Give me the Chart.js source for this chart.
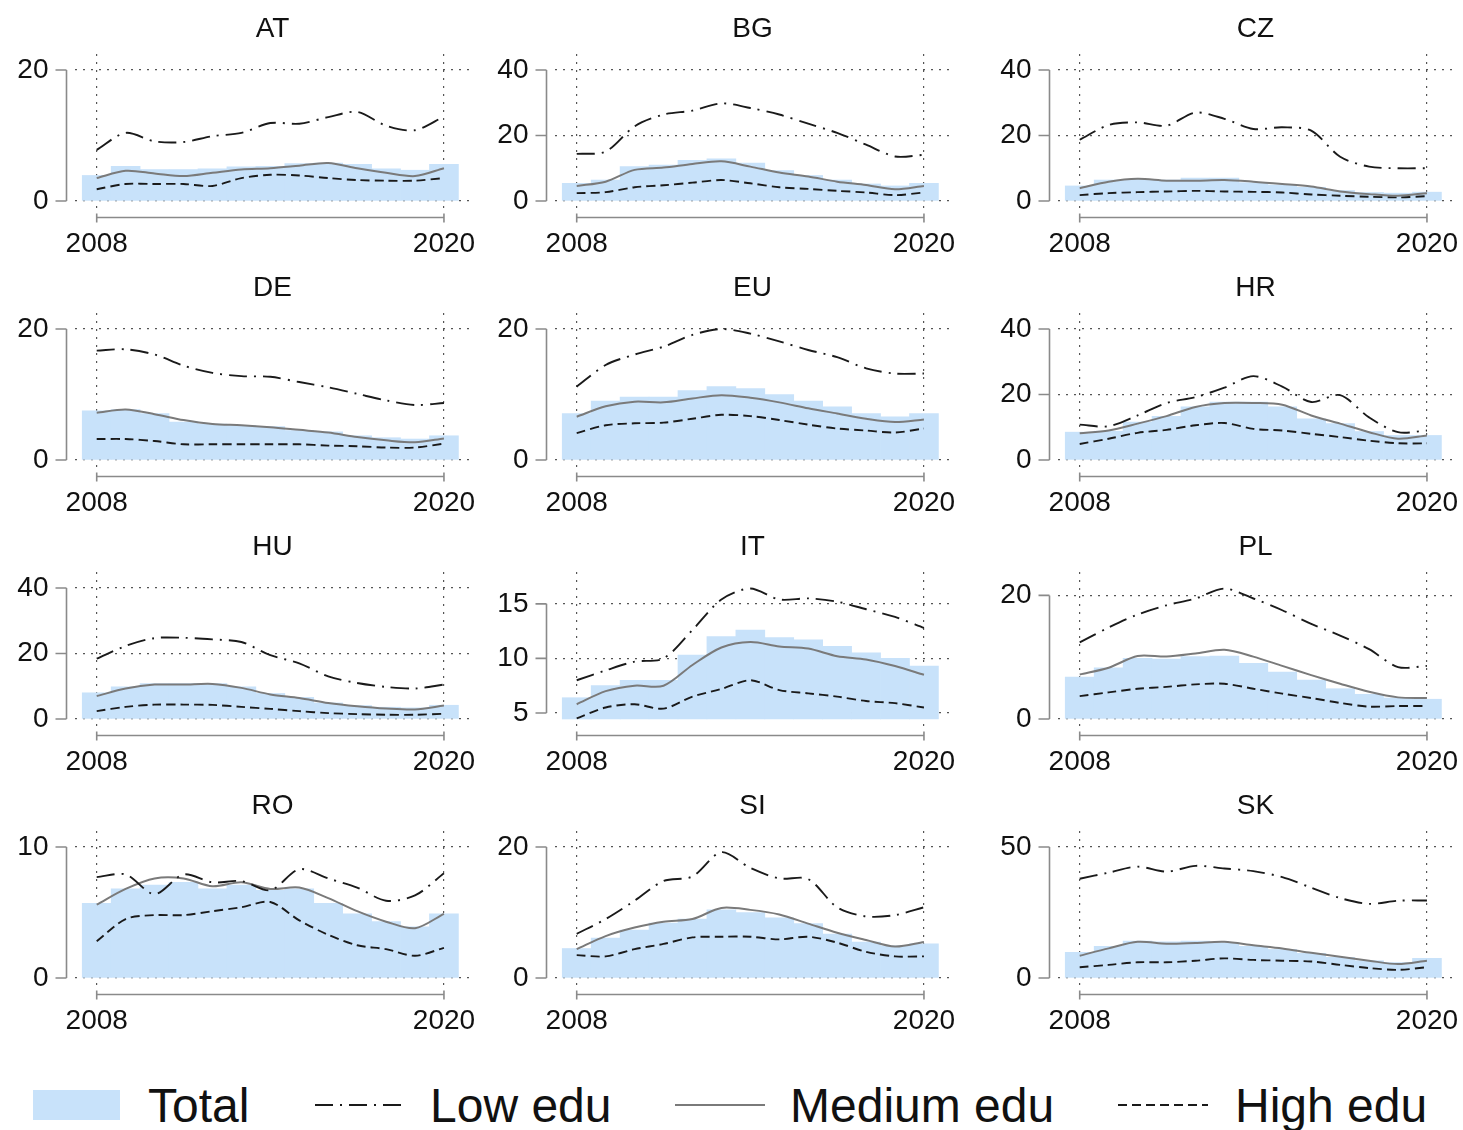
<!DOCTYPE html>
<html><head><meta charset="utf-8">
<script src="https://cdn.jsdelivr.net/npm/chart.js@4"></script>
<style>
html,body{margin:0;padding:0;background:#fff;overflow:hidden;width:1463px;height:1130px;position:relative;}
canvas{position:absolute;}
.leg{position:absolute;font-family:"Liberation Sans",Arial,Helvetica,sans-serif;font-size:48px;color:#111;line-height:48px;white-space:nowrap;}
.sw{position:absolute;}
</style></head><body>
<script>
const years = [2008,2009,2010,2011,2012,2013,2014,2015,2016,2017,2018,2019,2020];
const countries = ['AT','BG','CZ','DE','EU','HR','HU','IT','PL','RO','SI','SK'];

const totalAT = [3.9,5.3,4.8,4.8,4.9,5.2,5.3,5.7,5.8,5.6,4.9,4.7,5.6];
const lowAT   = [7.8,10.4,9.1,9.0,9.9,10.4,11.9,11.8,12.8,13.6,11.5,10.8,12.9];
const medAT   = [3.5,4.6,4.2,3.8,4.3,4.8,5.0,5.4,5.8,5.0,4.3,3.8,5.0];
const highAT  = [1.8,2.6,2.6,2.6,2.3,3.5,4.0,3.9,3.5,3.2,3.1,3.1,3.5];

const totalBG = [5.4,6.4,10.5,11.0,12.4,12.9,11.6,9.3,7.8,6.4,5.2,4.6,5.4];
const lowBG   = [14.4,15.1,22.8,26.4,27.6,29.8,28.4,26.4,23.6,20.8,17.2,13.6,14.1];
const medBG   = [4.6,5.9,9.5,10.2,11.3,12.1,10.5,8.7,7.5,5.9,4.9,3.6,4.6];
const highBG  = [2.4,2.7,4.2,4.8,5.6,6.4,5.4,4.2,3.7,3.1,2.6,1.8,2.6];

const totalCZ = [4.6,6.4,6.6,6.4,7.0,7.0,5.6,4.9,4.2,3.2,2.6,2.4,2.7];
const lowCZ   = [18.7,23.2,24.0,23.0,27.0,25.1,22.0,22.5,21.5,13.5,10.5,10.0,10.0];
const medCZ   = [3.9,5.9,6.8,6.2,6.2,6.4,5.9,5.2,4.4,2.9,2.1,1.6,2.4];
const highCZ  = [1.8,2.4,2.7,2.9,3.1,2.9,2.8,2.6,2.0,1.6,1.3,1.1,1.5];

const totalDE = [7.5,7.7,7.1,5.8,5.5,5.3,5.1,4.5,4.3,3.7,3.4,3.2,3.7];
const lowDE   = [16.7,16.9,16.1,14.4,13.3,12.8,12.7,11.9,11.1,10.1,9.1,8.4,8.7];
const medDE   = [7.2,7.7,7.0,6.1,5.5,5.3,5.0,4.6,4.2,3.5,3.0,2.7,3.3];
const highDE  = [3.2,3.2,2.9,2.4,2.4,2.4,2.4,2.4,2.2,2.1,1.9,1.9,2.5];

const totalEU = [7.1,9.0,9.6,9.6,10.6,11.2,10.9,10.0,9.0,8.1,7.1,6.6,7.1];
const lowEU   = [11.2,14.5,16.1,17.3,19.1,20.0,19.3,18.1,16.8,15.7,14.0,13.2,13.2];
const medEU   = [6.6,8.2,8.9,8.8,9.4,9.9,9.5,8.8,7.9,7.1,6.3,5.8,6.2];
const highEU  = [4.1,5.3,5.6,5.7,6.3,6.9,6.7,6.1,5.4,4.8,4.5,4.2,4.8];

const totalHR = [8.5,8.8,11.6,13.3,16.2,17.7,17.7,16.2,12.6,11.1,8.7,7.5,7.5];
const lowHR   = [10.8,10.3,13.6,17.4,19.2,22.1,25.6,22.4,17.7,19.8,13.0,8.5,9.0];
const medHR   = [8.2,9.0,11.1,13.4,16.2,17.4,17.4,16.9,13.6,11.1,8.5,6.5,7.5];
const highHR  = [4.9,6.5,8.3,9.2,10.6,11.3,9.5,9.0,8.0,7.0,5.9,5.1,5.1];

const totalHU = [8.0,9.8,10.8,10.8,10.8,9.8,7.8,6.6,4.9,4.1,3.6,3.4,4.2];
const lowHU   = [18.4,22.3,24.7,24.8,24.3,23.5,19.5,17.0,13.0,11.0,9.8,9.3,10.5];
const medHU   = [7.0,9.3,10.5,10.5,10.7,9.5,7.5,6.4,4.9,3.9,3.2,2.9,4.1];
const highHU  = [2.4,3.7,4.4,4.4,4.3,3.7,3.1,2.4,1.8,1.5,1.3,1.3,1.6];

const totalIT = [6.4,7.5,8.0,8.0,10.3,12.0,12.6,11.9,11.7,11.1,10.5,10.0,9.3];
const lowIT   = [8.0,8.9,9.7,10.0,12.6,15.4,16.4,15.4,15.5,15.2,14.5,13.8,12.8];
const medIT   = [5.8,7.0,7.5,7.5,9.4,11.0,11.5,11.1,10.9,10.2,9.9,9.3,8.5];
const highIT  = [4.5,5.5,5.8,5.4,6.5,7.2,8.0,7.1,6.8,6.5,6.1,5.9,5.5];

const totalPL = [6.8,8.3,9.8,9.7,10.1,10.2,9.0,7.6,6.3,4.9,4.0,3.4,3.2];
const lowPL   = [12.4,14.8,16.9,18.4,19.5,21.1,19.5,17.6,15.4,13.5,11.3,8.4,8.6];
const medPL   = [7.2,8.3,10.2,10.1,10.6,11.2,10.1,8.6,7.1,5.7,4.4,3.5,3.4];
const highPL  = [3.7,4.3,4.9,5.2,5.6,5.7,4.9,4.1,3.4,2.6,2.0,2.1,2.1];

const totalRO = [5.7,6.8,7.1,7.3,6.8,7.1,6.7,6.8,5.7,4.9,4.3,3.9,4.9];
const lowRO   = [7.7,7.9,6.4,7.9,7.3,7.4,6.7,8.3,7.6,6.9,5.9,6.3,8.0];
const medRO   = [5.6,6.8,7.6,7.6,7.0,7.3,6.8,6.9,6.1,5.1,4.3,3.8,4.9];
const highRO  = [2.8,4.5,4.8,4.8,5.1,5.4,5.8,4.4,3.3,2.5,2.2,1.7,2.3];

const totalSI = [4.5,6.1,7.3,8.4,9.0,10.4,10.0,9.2,8.3,6.7,5.5,4.9,5.2];
const lowSI   = [6.75,9.0,11.8,14.8,15.5,19.2,16.8,15.2,15.1,10.8,9.4,9.6,10.8];
const medSI   = [4.4,6.4,7.7,8.6,9.0,10.7,10.4,9.7,8.3,6.9,5.8,4.8,5.5];
const highSI  = [3.5,3.3,4.4,5.2,6.2,6.3,6.3,5.9,6.3,5.4,4.0,3.3,3.3];

const totalSK = [9.8,12.1,14.1,13.8,14.1,13.5,12.1,10.9,9.4,7.9,6.6,5.9,7.5];
const lowSK   = [37.9,40.2,42.5,40.6,42.8,41.8,40.8,38.5,34.5,30.5,28.3,29.5,29.6];
const medSK   = [8.5,11.3,13.8,13.1,13.4,13.8,12.5,11.3,9.6,8.1,6.6,5.3,6.6];
const highSK  = [4.1,5.0,6.0,6.0,6.6,7.5,6.9,6.6,6.3,5.0,3.8,3.1,4.1];

// y tick labels per panel
const ticksAT = [0,20], ticksBG = [0,20,40], ticksCZ = [0,20,40], ticksDE = [0,20];
const ticksEU = [0,20], ticksHR = [0,20,40], ticksHU = [0,20,40], ticksIT = [5,10,15];
const ticksPL = [0,20], ticksRO = [0,10], ticksSI = [0,20], ticksSK = [0,50];
const xTicks = [2008, 2020];
// data range of each panel's value axis (low, high) where it differs from the ticks
const rangeIT = [4.45, 16.45], rangePL = [0, 21.2];

const panels = [
  ['AT',totalAT,lowAT,medAT,highAT,ticksAT],
  ['BG',totalBG,lowBG,medBG,highBG,ticksBG],
  ['CZ',totalCZ,lowCZ,medCZ,highCZ,ticksCZ],
  ['DE',totalDE,lowDE,medDE,highDE,ticksDE],
  ['EU',totalEU,lowEU,medEU,highEU,ticksEU],
  ['HR',totalHR,lowHR,medHR,highHR,ticksHR],
  ['HU',totalHU,lowHU,medHU,highHU,ticksHU],
  ['IT',totalIT,lowIT,medIT,highIT,ticksIT,rangeIT],
  ['PL',totalPL,lowPL,medPL,highPL,ticksPL,rangePL],
  ['RO',totalRO,lowRO,medRO,highRO,ticksRO],
  ['SI',totalSI,lowSI,medSI,highSI,ticksSI],
  ['SK',totalSK,lowSK,medSK,highSK,ticksSK]
];

const FONT = '"Liberation Sans", Arial, Helvetica, sans-serif';
const BAR = 'rgb(200,226,250)';
const INK = '#111';
const colPlotLeft = [75, 555, 1058];
const rowPlotTop = [54, 313, 572, 831];
const PW = 395, PH = 154, TOPM = 16, BOTM = 7;

const stataAxes = {
  id: 'stataAxes',
  afterDraw(chart) {
    const {ctx, chartArea: a, scales: {x, y}} = chart;
    const tv = y.ticks.map(t => t.value);
    ctx.save();
    ctx.strokeStyle = '#8a8a8a';
    ctx.lineWidth = 1.6;
    ctx.beginPath();
    const ax = Math.round(a.left - 9) + 0.5;
    ctx.moveTo(ax, y.getPixelForValue(Math.max(...tv)));
    ctx.lineTo(ax, y.getPixelForValue(Math.min(...tv)));
    tv.forEach(v => { const p = y.getPixelForValue(v); ctx.moveTo(ax - 11, p); ctx.lineTo(ax, p); });
    const ay = Math.round(a.bottom + 9) + 0.5;
    const x0 = x.getPixelForValue(xTicks[0]), x1 = x.getPixelForValue(xTicks[1]);
    ctx.moveTo(x0, ay); ctx.lineTo(x1, ay);
    [x0, x1].forEach(p => { ctx.moveTo(p, ay - 4); ctx.lineTo(p, ay + 5); });
    ctx.stroke();
    ctx.restore();
  }
};
const noPad = s => { s.paddingLeft = 0; s.paddingRight = 0; s.paddingTop = 0; s.paddingBottom = 0; };

panels.forEach((p, i) => {
  const [name, total, low, med, high, ticks, rng] = p;
  const col = i % 3, row = Math.floor(i / 3);
  const cv = document.createElement('canvas');
  const W = 75 + PW + 10, H = 54 + PH + 50;
  cv.width = W; cv.height = H;
  cv.style.left = (colPlotLeft[col] - 75) + 'px';
  cv.style.top = (rowPlotTop[row] - 54) + 'px';
  cv.style.width = W + 'px'; cv.style.height = H + 'px';
  document.body.appendChild(cv);
  const lo = rng ? rng[0] : Math.min(...ticks);
  const hi = rng ? rng[1] : Math.max(...ticks);
  const ppu = (PH - TOPM - BOTM) / (hi - lo);
  const ymin = lo - BOTM / ppu, ymax = hi + TOPM / ppu;
  const pts = arr => years.map((yr, k) => ({x: yr, y: arr[k]}));
  new Chart(cv, {
    data: {
      datasets: [
        {type: 'bar', label: 'Total', data: pts(total), backgroundColor: BAR, borderWidth: 0,
         barPercentage: 1, categoryPercentage: 1, base: lo, order: 4},
        {type: 'line', label: 'Low edu', data: pts(low), borderColor: '#1a1a1a', borderWidth: 1.9,
         borderDash: [18, 7, 2, 7], pointRadius: 0, tension: 0.3, order: 1},
        {type: 'line', label: 'Medium edu', data: pts(med), borderColor: '#7a7a7a', borderWidth: 2,
         pointRadius: 0, tension: 0.3, order: 2},
        {type: 'line', label: 'High edu', data: pts(high), borderColor: '#1a1a1a', borderWidth: 1.9,
         borderDash: [9, 5], pointRadius: 0, tension: 0.3, order: 3}
      ]
    },
    options: {
      responsive: false, animation: false, devicePixelRatio: 1,
      layout: {padding: {left: 0, right: 10, top: 0, bottom: 0}},
      plugins: {
        legend: {display: false}, tooltip: {enabled: false},
        title: {display: true, text: name, fullSize: false, color: INK,
                font: {family: FONT, size: 28, weight: 'normal', lineHeight: 1.2},
                padding: {top: 12.2, bottom: 8.2}}
      },
      scales: {
        x: {type: 'linear', min: 2007.25, max: 2020.9, offset: false,
            afterBuildTicks: s => { s.ticks = xTicks.map(v => ({value: v})); },
            afterFit: s => { s.height = 50; noPad(s); },
            grid: {color: '#555', lineWidth: 1.2, drawTicks: false, offset: false},
            border: {display: false, dash: [2, 6]},
            ticks: {color: INK, font: {family: FONT, size: 28}, padding: 19, maxRotation: 0, autoSkip: false,
                    callback: v => String(v)}},
        y: {type: 'linear', min: ymin, max: ymax,
            afterBuildTicks: s => { s.ticks = ticks.map(v => ({value: v})); },
            afterFit: s => { s.width = 75; noPad(s); },
            grid: {color: '#555', lineWidth: 1.2, drawTicks: false},
            border: {display: false, dash: [2, 6]},
            ticks: {color: INK, font: {family: FONT, size: 28}, padding: 26.5, autoSkip: false,
                    callback: v => String(v)}}
      }
    },
    plugins: [stataAxes]
  });
});
</script>

<div class="sw" style="left:33px;top:1090px;width:87px;height:30px;background:rgb(200,226,250);"></div>
<div class="leg" style="left:148px;top:1082px;">Total</div>
<svg class="sw" style="left:312px;top:1095px" width="96" height="20"><line x1="3" y1="10" x2="93" y2="10" stroke="#1a1a1a" stroke-width="2" stroke-dasharray="18 7 2 7"/></svg>
<div class="leg" style="left:430px;top:1082px;">Low edu</div>
<svg class="sw" style="left:672px;top:1095px" width="96" height="20"><line x1="3" y1="10" x2="93" y2="10" stroke="#7a7a7a" stroke-width="2"/></svg>
<div class="leg" style="left:790px;top:1082px;">Medium edu</div>
<svg class="sw" style="left:1115px;top:1095px" width="96" height="20"><line x1="3" y1="10" x2="93" y2="10" stroke="#1a1a1a" stroke-width="2" stroke-dasharray="9 5"/></svg>
<div class="leg" style="left:1235px;top:1082px;">High edu</div>
</body></html>
